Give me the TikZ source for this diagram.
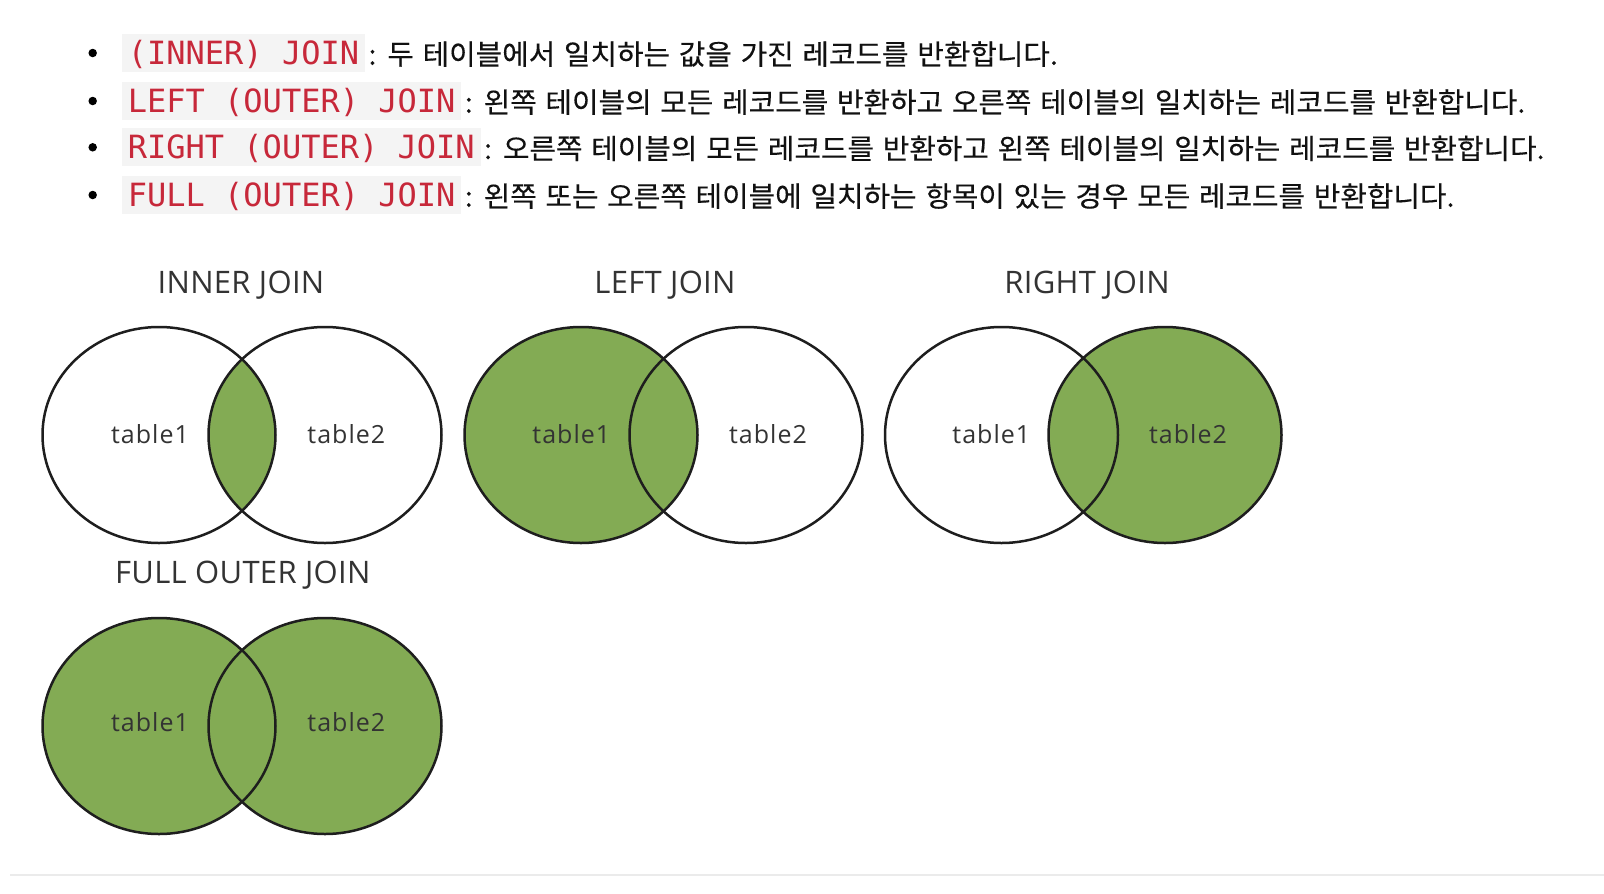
\documentclass[tikz,border=0pt]{standalone}
\usepackage{fontspec}
\newfontfamily\codefont{DejaVu Sans Mono}
\newfontfamily\krfont[WordSpace=1.35,FakeStretch=1.03,FakeBold=0.3]{Noto Sans CJK KR}
\newfontfamily\titlefont[LetterSpace=1]{Open Sans}
\newfontfamily\labelfont[LetterSpace=4]{Open Sans}
\definecolor{codebg}{HTML}{F4F4F4}
\definecolor{codered}{HTML}{C7283A}
\definecolor{krtext}{HTML}{111111}
\definecolor{venntext}{HTML}{333333}
\definecolor{setdark}{HTML}{1E1E1E}
\definecolor{setgreen}{HTML}{83AB54}
\definecolor{rulegray}{HTML}{EBEBEB}
\tikzset{
  codebox/.style={fill=codebg, text=codered, font=\codefont\fontsize{32}{38}\selectfont,
    inner xsep=6pt, inner ysep=0pt, minimum height=37.7pt, text height=23.3pt, text depth=0pt, anchor=west},
  desc/.style={font=\krfont\fontsize{28}{34}\selectfont, text=krtext, inner sep=0pt, anchor=base west},
  bulletdot/.style={circle, fill=black, inner sep=0pt, minimum size=8.5pt},
  venntitle/.style={font=\titlefont\fontsize{31}{36}\selectfont, text=venntext, anchor=base, inner sep=0pt},
  vennlabel/.style={font=\labelfont\fontsize{25}{30}\selectfont, text=venntext, anchor=base, inner sep=0pt},
  setline/.style={draw=setdark, line width=2.5pt},
  setfill/.style={fill=setgreen},
  setshape/.style={x radius=116.5pt, y radius=108pt}
}
\begin{document}
\begin{tikzpicture}[x=1pt,y=-1pt]
\useasboundingbox[fill=white] (0,0) rectangle (1604,894);

% bullet list
\node[bulletdot] (b1) at (92.7,53) {};
\node[bulletdot] (b2) at (92.7,101) {};
\node[bulletdot] (b3) at (92.7,147.3) {};
\node[bulletdot] (b4) at (92.7,195) {};

\node[codebox] (c1) at (121.7,53) {(INNER) JOIN};
\node[codebox] (c2) at (121.7,101) {LEFT (OUTER) JOIN};
\node[codebox] (c3) at (121.7,147.3) {RIGHT (OUTER) JOIN};
\node[codebox] (c4) at (121.7,195) {FULL (OUTER) JOIN};

\node[desc] (d1) at ([xshift=3pt]c1.base east) {: 두 테이블에서 일치하는 값을 가진 레코드를 반환합니다.};
\node[desc] (d2) at ([xshift=3pt]c2.base east) {: 왼쪽 테이블의 모든 레코드를 반환하고 오른쪽 테이블의 일치하는 레코드를 반환합니다.};
\node[desc] (d3) at ([xshift=3pt]c3.base east) {: 오른쪽 테이블의 모든 레코드를 반환하고 왼쪽 테이블의 일치하는 레코드를 반환합니다.};
\node[desc] (d4) at ([xshift=3pt]c4.base east) {: 왼쪽 또는 오른쪽 테이블에 일치하는 항목이 있는 경우 모든 레코드를 반환합니다.};

% set centres
\coordinate (iL) at (159,435);    \coordinate (iR) at (325,435);
\coordinate (lL) at (581,435);    \coordinate (lR) at (746,435);
\coordinate (rL) at (1001.5,435); \coordinate (rR) at (1165,435);
\coordinate (fL) at (159,726);    \coordinate (fR) at (325,726);

% fills
\begin{scope}
  \clip (iL) ellipse [setshape];
  \fill[setfill] (iR) ellipse [setshape];
\end{scope}
\fill[setfill] (lL) ellipse [setshape];
\fill[setfill] (rR) ellipse [setshape];
\fill[setfill] (fL) ellipse [setshape];
\fill[setfill] (fR) ellipse [setshape];

% outlines
\foreach \c in {iL,iR,lL,lR,rL,rR,fL,fR}
  \draw[setline] (\c) ellipse [setshape];

% titles
\node[venntitle] (tInner) at (241,293.3) {INNER JOIN};
\node[venntitle] (tLeft) at (665,293.3) {LEFT JOIN};
\node[venntitle] (tRight) at (1087,293.3) {RIGHT JOIN};
\node[venntitle] (tFull) at (242.8,583.3) {FULL OUTER JOIN};

% labels
\node[vennlabel] (it1) at (150,443.3) {table1};
\node[vennlabel] (it2) at (346.3,443.3) {table2};
\node[vennlabel] (lt1) at (571.3,443.3) {table1};
\node[vennlabel] (lt2) at (768,443.3) {table2};
\node[vennlabel] (rt1) at (991.3,443.3) {table1};
\node[vennlabel] (rt2) at (1188,443.3) {table2};
\node[vennlabel] (ft1) at (150,731.7) {table1};
\node[vennlabel] (ft2) at (346.3,731.7) {table2};

% bottom rule
\coordinate (ruleA) at (10,875);
\coordinate (ruleB) at (1604,875);
\draw[rulegray, line width=2pt] (ruleA) -- (ruleB);
\end{tikzpicture}
\end{document}
